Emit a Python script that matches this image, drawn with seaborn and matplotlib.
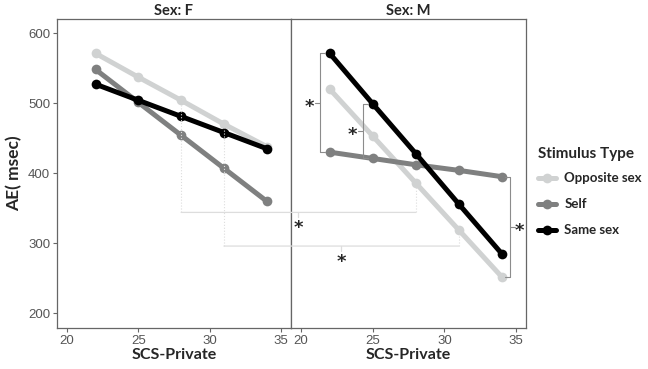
import numpy as np
import pandas as pd
import seaborn as sns
import matplotlib.pyplot as plt
from matplotlib.patches import ConnectionPatch
from matplotlib.lines import Line2D

scs = [22, 25, 28, 31, 34]
stim_types = ['Opposite sex', 'Self', 'Same sex']
f_opposite = [571, 537, 504, 470, 438]
f_self = [548, 501, 454, 407, 360]
f_same = [527, 504, 481, 458, 435]
m_opposite = [520, 453, 386, 319, 252]
m_self = [430, 421, 412, 404, 395]
m_same = [571, 499, 428, 356, 285]

rows = []
for sex, vals in [('F', [f_opposite, f_self, f_same]), ('M', [m_opposite, m_self, m_same])]:
    for stim, v in zip(stim_types, vals):
        for x, y in zip(scs, v):
            rows.append({'Sex': sex, 'Stimulus Type': stim, 'SCS': x, 'AE': y})
df = pd.DataFrame(rows)

palette = {'Opposite sex': '#d0d2d2', 'Self': '#7f8080', 'Same sex': '#000000'}
sns.set_style('white')
plt.rcParams['font.family'] = ['Lato', 'DejaVu Sans']

fig = plt.figure(figsize=(6.48, 3.69), dpi=100)
axF = fig.add_axes([0.088, 0.111, 0.361, 0.8375])
axM = fig.add_axes([0.449, 0.111, 0.363, 0.8375], sharey=axF)
frame = '#666666'
for ax, sex in [(axF, 'F'), (axM, 'M')]:
    sub = df[df['Sex'] == sex]
    sns.lineplot(data=sub, x='SCS', y='AE', hue='Stimulus Type', hue_order=stim_types,
                 palette=palette, marker='o', markersize=7, markeredgewidth=0,
                 linewidth=3.6, ax=ax, legend=(sex == 'M'))
    ax.set_xlim(19.3, 35.7)
    ax.set_ylim(179, 620)
    ax.set_xticks([20, 25, 30, 35])
    ax.set_yticks([200, 300, 400, 500, 600])
    ax.set_title(f'Sex: {sex}', fontsize=10.5, fontweight='bold', pad=3)
    ax.set_xlabel('SCS-Private', fontsize=11.5, fontweight='bold', labelpad=1)
    ax.tick_params(axis='both', length=3, width=0.8, color=frame, labelcolor='#555555',
                   labelsize=9.5, pad=2, direction='out', bottom=True, left=True)
    for lab in ax.get_xticklabels() + ax.get_yticklabels():
        lab.set_family('Liberation Sans')
    for s in ax.spines.values():
        s.set_color(frame)
        s.set_linewidth(0.9)
axF.set_ylabel('AE( msec)', fontsize=12.5, fontweight='bold', labelpad=4)
axM.set_ylabel('')
axM.tick_params(axis='y', left=False, labelleft=False)

# legend
handles, labels = axM.get_legend_handles_labels()
axM.get_legend().remove()
leg = fig.legend(handles, labels, title='Stimulus Type', loc='upper left',
                 bbox_to_anchor=(0.822, 0.615), frameon=False, handlelength=1.4,
                 handletextpad=0.6, labelspacing=1.05, borderaxespad=0,
                 prop={'weight': 'bold', 'size': 9.5})
leg.get_title().set_fontweight('bold')
leg.get_title().set_fontsize(11)
leg._legend_box.align = 'left'
leg._legend_box.sep = 8

# significance brackets in the M panel
bc = '#8c8c8c'
star_font = dict(fontsize=13, fontweight='bold', family='DejaVu Sans')
def bracket(ax, x, y1, y2, side, star_off):
    # side: -1 for left, +1 for right
    tick = 0.35 * side
    ax.plot([x, x], [y1, y2], color=bc, lw=0.8, clip_on=False)
    ax.plot([x, x - tick], [y1, y1], color=bc, lw=0.8, clip_on=False)
    ax.plot([x, x - tick], [y2, y2], color=bc, lw=0.8, clip_on=False)
    mid = (y1 + y2) / 2
    ax.plot([x, x + tick], [mid, mid], color=bc, lw=0.8, clip_on=False)
    ax.text(x + star_off * side, mid - 6, '*', ha='center', va='center',
            clip_on=False, **star_font)

bracket(axM, scs[0] - 0.65, m_same[0], m_self[0], -1, 0.75)
bracket(axM, scs[1] - 0.65, m_same[1], m_self[1], -1, 0.75)
bracket(axM, scs[4] + 0.6, m_self[4], m_opposite[4], 1, 0.6)

# cross-panel comparisons (F vs M at SCS 28 and 31)
lc = '#dddddd'
inv = fig.transFigure.inverted()
for xi, level, fv, mv in [(2, 344, f_opposite, m_opposite), (3, 296, f_opposite, m_opposite)]:
    x = scs[xi]
    axF.plot([x, x], [level, fv[xi] - 6], color=lc, lw=0.8, ls=':')
    axM.plot([x, x], [level, mv[xi] - 6], color=lc, lw=0.8, ls=':')
    con = ConnectionPatch(xyA=(x, level), coordsA=axF.transData,
                          xyB=(x, level), coordsB=axM.transData, color=lc, lw=0.9)
    fig.add_artist(con)
    pa = axF.transData.transform((x, level))
    pb = axM.transData.transform((x, level))
    mx = (pa[0] + pb[0]) / 2
    p0 = inv.transform((mx, pa[1]))
    p1 = inv.transform((mx, pa[1] - 5))
    fig.add_artist(Line2D([p0[0], p1[0]], [p0[1], p1[1]], color=lc, lw=0.9))
    ps = inv.transform((mx, pa[1] - 16))
    fig.text(ps[0], ps[1], '*', ha='center', va='center', **star_font)

fig.savefig('out.png', dpi=100)
